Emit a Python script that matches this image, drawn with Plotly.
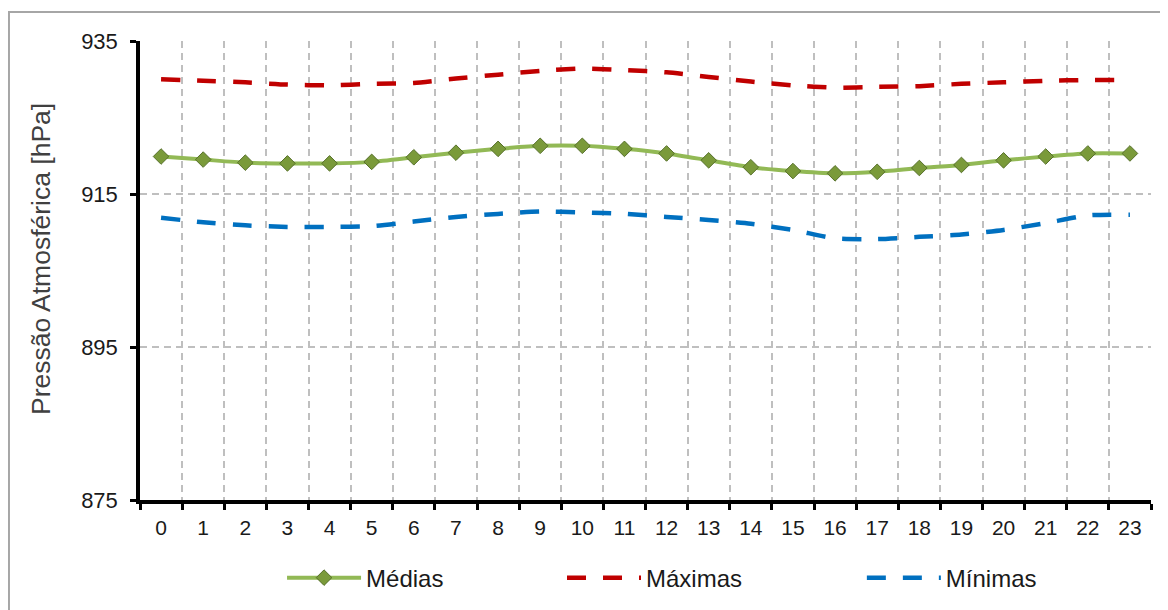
import plotly.graph_objects as go

hours = [str(h) for h in range(24)]
medias = [919.9, 919.5, 919.1, 919.0, 919.0, 919.2, 919.8, 920.4, 920.9, 921.3, 921.3, 920.9,
          920.3, 919.4, 918.5, 918.0, 917.7, 917.9, 918.4, 918.8, 919.4, 919.9, 920.3, 920.3]
maximas = [930.0, 929.8, 929.6, 929.3, 929.2, 929.4, 929.5, 930.1, 930.6, 931.1, 931.4, 931.2,
           930.9, 930.3, 929.7, 929.2, 928.9, 929.0, 929.1, 929.4, 929.6, 929.8, 929.9, 929.9]
minimas = [911.9, 911.3, 910.9, 910.7, 910.7, 910.8, 911.4, 912.0, 912.4, 912.7, 912.6, 912.4,
           912.0, 911.6, 911.1, 910.3, 909.2, 909.1, 909.4, 909.7, 910.3, 911.2, 912.2, 912.3]
y_ticks = [875, 895, 915, 935]
y_title = "Pressão Atmosférica [hPa]"

FONT = "Liberation Sans, Arial, sans-serif"

fig = go.Figure()
fig.add_trace(go.Scatter(
    x=hours, y=medias, name="Médias", mode="lines+markers",
    line=dict(color="#92B955", width=4, shape="spline", smoothing=0.6),
    marker=dict(symbol="diamond", size=12, color="#7A9A3A",
                line=dict(color="#56702A", width=1)),
    legend="legend", showlegend=True))
fig.add_trace(go.Scatter(
    x=hours, y=maximas, name="Máximas", mode="lines",
    line=dict(color="#C00000", width=4.5, dash="19px,17px", shape="spline", smoothing=0.6),
    legend="legend2", showlegend=True))
fig.add_trace(go.Scatter(
    x=hours, y=minimas, name="Mínimas", mode="lines",
    line=dict(color="#0070C0", width=4.5, dash="19px,17px", shape="spline", smoothing=0.6),
    legend="legend3", showlegend=True))

legend_common = dict(orientation="h", yanchor="middle", xanchor="left", itemwidth=74,
                     font=dict(family=FONT, size=24, color="#1a1a1a"),
                     bgcolor="rgba(0,0,0,0)")

fig.update_layout(
    width=1168, height=610,
    margin=dict(l=132, r=25, t=33, b=118),
    paper_bgcolor="white", plot_bgcolor="white",
    showlegend=True,
    font=dict(family=FONT, color="#1a1a1a"),
    legend=dict(x=0.1405, y=-0.170, **legend_common),
    legend2=dict(x=0.4174, y=-0.170, **legend_common),
    legend3=dict(x=0.714, y=-0.170, **legend_common),
    xaxis=dict(
        type="category", categoryorder="array", categoryarray=hours,
        range=[-0.5, 23.5], tickson="boundaries",
        showgrid=True, gridcolor="#BFBFBF", gridwidth=1.5, griddash="7px,5px",
        showline=True, linecolor="black", linewidth=4,
        ticks="outside", ticklen=6, tickwidth=3, tickcolor="black",
        ticklabelstandoff=6,
        tickfont=dict(family=FONT, size=21, color="#1a1a1a"),
        zeroline=False, fixedrange=True),
    yaxis=dict(
        range=[875, 935], tickvals=y_ticks, ticktext=[str(v) for v in y_ticks],
        showgrid=True, gridcolor="#BFBFBF", gridwidth=1.5, griddash="7px,5px",
        showline=True, linecolor="black", linewidth=3.5,
        ticks="outside", ticklen=6, tickwidth=3, tickcolor="black",
        ticklabelstandoff=8,
        tickfont=dict(family=FONT, size=22, color="#1a1a1a"),
        zeroline=False, fixedrange=True),
    annotations=[dict(text=y_title, textangle=-90, xref="paper", yref="paper",
                      x=-0.0979, y=0.525, xanchor="center", yanchor="middle",
                      showarrow=False,
                      font=dict(family=FONT, size=26.5, color="#404040"))],
    shapes=[dict(type="rect", xref="paper", yref="paper",
                 x0=-0.1296, x1=1.08, y0=-0.3, y1=1.0632,
                 line=dict(color="#A6A6A6", width=2), fillcolor="rgba(0,0,0,0)",
                 layer="below")],
)

fig.write_html("out.html")
